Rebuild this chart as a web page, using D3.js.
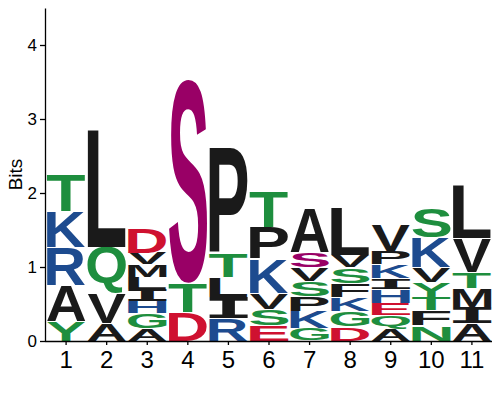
<!DOCTYPE html>
<html>
<head>
<meta charset="utf-8">
<script src="https://cdn.jsdelivr.net/npm/d3@7"></script>
<style>
  body { margin: 0; background: #fff; }
  svg { display: block; }
  .axis text { font-family: 'Liberation Sans', Arial, sans-serif; fill: #000; }
  .axis path, .axis line { stroke: #000; stroke-width: 1.3; }
</style>
</head>
<body>
<svg id="chart" width="500" height="400"></svg>
<script>
// positions along the motif
const positions = [1, 2, 3, 4, 5, 6, 7, 8, 9, 10, 11];

// letters per position, stacked bottom -> top
const letters = [
  ["Y", "A", "R", "K", "T"],
  ["A", "V", "Q", "L"],
  ["A", "G", "H", "I", "L", "M", "V", "D"],
  ["D", "T", "S"],
  ["R", "I", "L", "T", "P"],
  ["E", "S", "V", "K", "P", "T"],
  ["G", "K", "P", "S", "V", "S", "A"],
  ["D", "G", "K", "F", "S", "V", "L"],
  ["A", "Q", "E", "H", "I", "K", "P", "V"],
  ["N", "F", "T", "Y", "V", "K", "S"],
  ["A", "I", "M", "T", "V", "L"]
];

// heights in bits, same order as letters
const bits = [
  [0.26, 0.49, 0.51, 0.49, 0.50],
  [0.24, 0.40, 0.63, 1.59],
  [0.17, 0.20, 0.16, 0.17, 0.16, 0.17, 0.16, 0.34],
  [0.39, 0.39, 2.76],
  [0.30, 0.29, 0.27, 0.33, 1.44],
  [0.21, 0.22, 0.22, 0.46, 0.43, 0.48],
  [0.17, 0.23, 0.20, 0.21, 0.18, 0.21, 0.60],
  [0.19, 0.21, 0.19, 0.19, 0.21, 0.17, 0.65],
  [0.16, 0.18, 0.17, 0.19, 0.15, 0.18, 0.18, 0.35],
  [0.21, 0.20, 0.18, 0.20, 0.20, 0.41, 0.40],
  [0.24, 0.22, 0.25, 0.22, 0.46, 0.72]
];

// index of the highlighted (phospho) serine in each column, -1 if none
const phospho = [-1, -1, -1, 2, -1, -1, 5, -1, -1, -1, -1];

const yTicks = [0, 1, 2, 3, 4];

const colors = {
  polar: "#1e8e3e",
  basic: "#1d4b8f",
  acidic: "#cf1130",
  hydrophobic: "#1a1a1a",
  phospho: "#990066"
};
const groupOf = l => "GSTYCQN".includes(l) ? "polar"
  : "KRH".includes(l) ? "basic"
  : "DE".includes(l) ? "acidic" : "hydrophobic";

const margin = { top: 8, right: 8, bottom: 59, left: 45 };
const width = 500, height = 400;

const svg = d3.select("#chart");

const x = d3.scaleBand()
  .domain(positions)
  .range([margin.left + 1, width - margin.right])
  .paddingInner(0.05)
  .paddingOuter(0.02);

const y = d3.scaleLinear()
  .domain([0, 4.5])
  .range([height - margin.bottom, margin.top]);

// the logo "I" has bars top and bottom, so take it from a mono face
const sansFace = "'Liberation Sans', Arial, sans-serif";
const monoFace = "'DejaVu Sans Mono', 'Liberation Mono', monospace";
const faceOf = l => l === "I" ? monoFace : sansFace;

// measure glyph ink boxes so each letter can be stretched to its cell
const ctx = document.createElement("canvas").getContext("2d");
const inkCache = {};
function ink(ch) {
  if (!inkCache[ch]) {
    ctx.font = "bold 100px " + faceOf(ch);
    const m = ctx.measureText(ch);
    inkCache[ch] = {
      left: m.actualBoundingBoxLeft,
      asc: m.actualBoundingBoxAscent,
      w: m.actualBoundingBoxLeft + m.actualBoundingBoxRight,
      h: m.actualBoundingBoxAscent + m.actualBoundingBoxDescent
    };
  }
  return inkCache[ch];
}

// build the stacked cells
const cells = [];
positions.forEach((p, i) => {
  let acc = 0;
  letters[i].forEach((l, j) => {
    const b = bits[i][j];
    cells.push({
      pos: p, letter: l, y0: acc, y1: acc + b,
      color: j === phospho[i] ? colors.phospho : colors[groupOf(l)]
    });
    acc += b;
  });
});

const gap = 0.8;
svg.append("g")
  .selectAll("text")
  .data(cells)
  .join("text")
  .attr("font-family", d => faceOf(d.letter))
  .attr("font-weight", "bold")
  .attr("font-size", 100)
  .attr("fill", d => d.color)
  .attr("transform", d => {
    const g = ink(d.letter);
    const bw = x.bandwidth();
    const top = y(d.y1) + gap / 2;
    const bh = Math.max(0.5, y(d.y0) - y(d.y1) - gap);
    return `translate(${x(d.pos)},${top}) scale(${bw / g.w},${bh / g.h}) translate(${g.left},${g.asc})`;
  })
  .text(d => d.letter);

// axes
svg.append("g")
  .attr("class", "axis")
  .attr("transform", `translate(0,${height - margin.bottom})`)
  .call(d3.axisBottom(x).tickSize(4).tickPadding(6).tickSizeOuter(0))
  .call(g => g.select(".domain").attr("d", `M${margin.left},0.5H${width - margin.right}`))
  .call(g => g.selectAll("text").attr("font-size", 24));

svg.append("g")
  .attr("class", "axis")
  .attr("transform", `translate(${margin.left},0)`)
  .call(d3.axisLeft(y).tickValues(yTicks).tickFormat(d3.format("d"))
    .tickSize(5).tickPadding(3).tickSizeOuter(0))
  .call(g => g.selectAll("text").attr("font-size", 17));

svg.append("text")
  .attr("transform", `translate(15,${(y(0) + y(4.5)) / 2}) rotate(-90)`)
  .attr("text-anchor", "middle")
  .attr("dy", "0.35em")
  .attr("font-family", sansFace)
  .attr("font-size", 19)
  .text("Bits");
</script>
</body>
</html>
